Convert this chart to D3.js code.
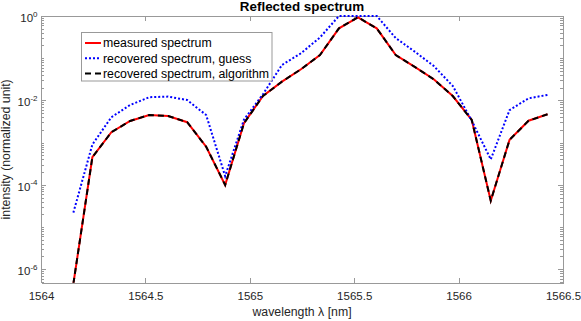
<!DOCTYPE html>
<html>
<head>
<meta charset="utf-8">
<script src="https://cdn.jsdelivr.net/npm/d3@7"></script>
<style>
  body { margin: 0; background: #fff; }
  svg { display: block; font-family: "Liberation Sans", Arial, Helvetica, sans-serif; }
</style>
</head>
<body>
<div id="app"></div>
<script>
// wavelength grid [nm]
const wavelength = [1564.155, 1564.246, 1564.337, 1564.427, 1564.518, 1564.609, 1564.700,
  1564.791, 1564.882, 1564.972, 1565.063, 1565.154, 1565.245, 1565.336, 1565.427,
  1565.518, 1565.608, 1565.699, 1565.790, 1565.881, 1565.972, 1566.063, 1566.154,
  1566.244, 1566.335, 1566.426]

const measured = [4.5e-7, 4.5e-4, 1.76e-3, 3.26e-3, 4.52e-3, 4.28e-3, 3.04e-3, 8.0e-4, 9.9e-5,
  2.87e-3, 1.27e-2, 2.78e-2, 5.47e-2, 0.119, 0.511, 0.93, 0.51, 0.119, 0.062, 0.0317,
  0.0127, 3.44e-3, 4.2e-5, 1.16e-3, 3.3e-3, 4.7e-3]

const guess = [2.19e-5, 9.0e-4, 3.99e-3, 7.8e-3, 1.19e-2, 1.23e-2, 1.02e-2, 4.5e-3, 1.6e-4,
  3.5e-3, 1.4e-2, 6.9e-2, 0.131, 0.31, 1.0, 1.0, 1.0, 0.3, 0.143, 0.0655,
  0.022, 3.3e-3, 4.0e-4, 5.9e-3, 1.12e-2, 1.35e-2]

const algorithm = [4.5e-7, 4.5e-4, 1.76e-3, 3.26e-3, 4.52e-3, 4.28e-3, 3.04e-3, 8.0e-4, 9.9e-5,
  2.87e-3, 1.27e-2, 2.78e-2, 5.47e-2, 0.119, 0.511, 0.93, 0.51, 0.119, 0.062, 0.0317,
  0.0127, 3.44e-3, 4.2e-5, 1.16e-3, 3.3e-3, 4.7e-3]

const xTicks = [1564, 1564.5, 1565, 1565.5, 1566, 1566.5]
const yTicks = [1e-6, 1e-4, 1e-2, 1]
const yTickExp = ['-6', '-4', '-2', '0']

const svgW = 581, svgH = 321
const plotL = 41, plotR = 563, plotT = 16, plotB = 282.7
const axisColor = '#999'
const textColor = '#262626'

const svg = d3.select('#app').append('svg')
  .attr('width', svgW)
  .attr('height', svgH)

const x = d3.scaleLinear().domain([1564, 1566.5]).range([plotL, plotR])
const y = d3.scaleLog().domain([Math.pow(10, -6.32), 1]).range([plotB, plotT])

// minor log ticks (all 1..9 x 10^k inside the domain), minus the labelled ones
const minorTicks = y.ticks().filter(v => !yTicks.some(t => Math.abs(t - v) / t < 1e-6))

function styleAxis(g) {
  g.selectAll('path, line').attr('stroke', axisColor).attr('shape-rendering', 'crispEdges')
  g.selectAll('text').attr('fill', textColor).attr('font-size', '11.5px')
    .attr('font-family', '"Liberation Sans", Arial, sans-serif')
}

// bottom axis
svg.append('g')
  .attr('transform', `translate(0,${plotB})`)
  .call(d3.axisBottom(x).tickValues(xTicks).tickSizeInner(-5).tickSizeOuter(0).tickPadding(9)
    .tickFormat(d => String(d)))
  .call(styleAxis)

// top axis (box)
svg.append('g')
  .attr('transform', `translate(0,${plotT})`)
  .call(d3.axisTop(x).tickValues(xTicks).tickSizeInner(-5).tickSizeOuter(0).tickFormat(''))
  .call(styleAxis)

// left axis
svg.append('g')
  .attr('transform', `translate(${plotL},0)`)
  .call(d3.axisLeft(y).tickValues(yTicks).tickSizeInner(-5).tickSizeOuter(0).tickFormat(''))
  .call(styleAxis)

svg.append('g')
  .attr('transform', `translate(${plotL},0)`)
  .call(d3.axisLeft(y).tickValues(minorTicks).tickSizeInner(-3).tickSizeOuter(0).tickFormat(''))
  .call(g => g.select('.domain').remove())
  .call(styleAxis)

// right axis
svg.append('g')
  .attr('transform', `translate(${plotR},0)`)
  .call(d3.axisRight(y).tickValues(yTicks).tickSizeInner(-5).tickSizeOuter(0).tickFormat(''))
  .call(styleAxis)

svg.append('g')
  .attr('transform', `translate(${plotR},0)`)
  .call(d3.axisRight(y).tickValues(minorTicks).tickSizeInner(-3).tickSizeOuter(0).tickFormat(''))
  .call(g => g.select('.domain').remove())
  .call(styleAxis)

// y tick labels as 10^k
const yLabels = svg.append('g')
  .attr('font-size', '11.5px')
  .attr('fill', textColor)
  .attr('text-anchor', 'end')

yTicks.forEach((t, i) => {
  const txt = yLabels.append('text')
    .attr('x', plotL - 3.5)
    .attr('y', y(t) + 6)
  txt.append('tspan').text('10')
  txt.append('tspan').attr('dy', -5.5).attr('font-size', '8px').text(yTickExp[i])
})

// clip region for data lines
svg.append('clipPath').attr('id', 'plotClip')
  .append('rect')
  .attr('x', plotL).attr('y', plotT - 2)
  .attr('width', plotR - plotL).attr('height', plotB - plotT + 2)

const line = d3.line()
  .x((d, i) => x(wavelength[i]))
  .y(d => y(d))

const plot = svg.append('g').attr('clip-path', 'url(#plotClip)')

const series = [
  { name: 'measured spectrum', values: measured, color: '#ff0000', dash: null, width: 2 },
  { name: 'recovered spectrum, guess', values: guess, color: '#0000ff', dash: '2,2', width: 2 },
  { name: 'recovered spectrum, algorithm', values: algorithm, color: '#000000', dash: '6,4', width: 2 }
]

series.forEach(s => {
  plot.append('path')
    .datum(s.values)
    .attr('d', line)
    .attr('fill', 'none')
    .attr('stroke', s.color)
    .attr('stroke-width', s.width)
    .attr('stroke-dasharray', s.dash)
    .attr('stroke-linejoin', 'miter')
})

// legend
const legend = svg.append('g')
legend.append('rect')
  .attr('x', 81.5).attr('y', 32.5)
  .attr('width', 190.5).attr('height', 48.5)
  .attr('fill', '#fff')
  .attr('stroke', axisColor)

series.forEach((s, i) => {
  const ly = 43 + i * 15.2
  legend.append('line')
    .attr('x1', 85).attr('x2', 101)
    .attr('y1', ly).attr('y2', ly)
    .attr('stroke', s.color)
    .attr('stroke-width', s.width)
    .attr('stroke-dasharray', s.dash)
  legend.append('text')
    .attr('x', 103)
    .attr('y', ly + 4.3)
    .attr('font-size', '12.3px')
    .attr('fill', '#000')
    .text(s.name)
})

// title and axis labels
svg.append('text')
  .attr('x', (plotL + plotR) / 2)
  .attr('y', 11.3)
  .attr('text-anchor', 'middle')
  .attr('font-weight', 'bold')
  .attr('font-size', '13.4px')
  .attr('fill', '#000')
  .text('Reflected spectrum')

svg.append('text')
  .attr('x', (plotL + plotR) / 2)
  .attr('y', 316)
  .attr('text-anchor', 'middle')
  .attr('font-size', '12.3px')
  .attr('fill', textColor)
  .text('wavelength λ [nm]')

svg.append('text')
  .attr('transform', `translate(10,${(plotT + plotB) / 2}) rotate(-90)`)
  .attr('text-anchor', 'middle')
  .attr('font-size', '12.3px')
  .attr('fill', textColor)
  .text('intensity (normalized unit)')
</script>
</body>
</html>
